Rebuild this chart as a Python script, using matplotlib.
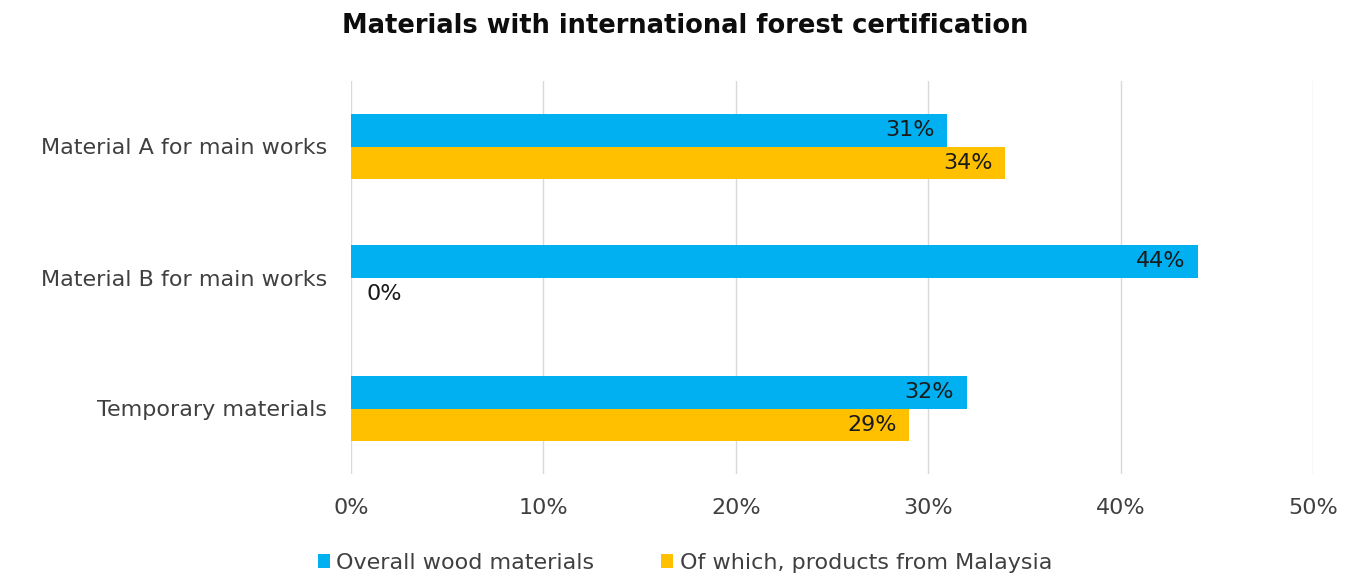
import numpy as np
import matplotlib.pyplot as plt

categories = ["Material A for main works", "Material B for main works", "Temporary materials"]
overall = [31, 44, 32]
malaysia = [34, 0, 29]
series_names = ["Overall wood materials", "Of which, products from Malaysia"]
xticks = [0, 10, 20, 30, 40, 50]

blue = "#00B0F0"
orange = "#FFC000"
txt = "#404040"
fs = 16

fig = plt.figure(figsize=(13.7, 5.77), dpi=100)
ax = fig.add_axes([351/1370, 1 - 474/577, (1313-351)/1370, (474-81)/577])

y = np.arange(len(categories))
h = 0.25
b1 = ax.barh(y - h/2, overall, height=h, color=blue, label=series_names[0], zorder=3)
b2 = ax.barh(y + h/2, malaysia, height=h, color=orange, label=series_names[1], zorder=3)

for bars in (b1, b2):
    for bar in bars:
        w = bar.get_width()
        yc = bar.get_y() + bar.get_height()/2
        if w > 0:
            ax.annotate(f"{w:.0f}%", (w, yc), xytext=(-9, 0), textcoords="offset points",
                        ha="right", va="center", fontsize=fs, color="#1a1a1a")
        else:
            ax.annotate(f"{w:.0f}%", (w, yc), xytext=(11, 0), textcoords="offset points",
                        ha="left", va="center", fontsize=fs, color="#1a1a1a")

ax.set_ylim(2.5, -0.5)
ax.set_xlim(0, 50)
ax.set_yticks(y)
ax.set_yticklabels(categories, fontsize=fs, color=txt)
ax.set_xticks(xticks)
ax.set_xticklabels([f"{t}%" for t in xticks], fontsize=fs, color=txt)
ax.tick_params(axis="x", length=0, pad=17)
ax.tick_params(axis="y", length=0, pad=17)
ax.grid(axis="x", color="#D9D9D9", linewidth=1, zorder=0)
for s in ax.spines.values():
    s.set_visible(False)

fig.suptitle("Materials with international forest certification", fontsize=18.5,
             fontweight="bold", y=1 - 26/577, va="center", color="#0d0d0d")
fig.legend(handles=[b1, b2], loc="center", bbox_to_anchor=(0.5, 1 - 563/577), ncol=2,
           frameon=False, fontsize=fs, handlelength=0.55, handleheight=0.55,
           handletextpad=0.3, columnspacing=3.0, labelcolor=txt)

fig.savefig("out.png", dpi=100)
